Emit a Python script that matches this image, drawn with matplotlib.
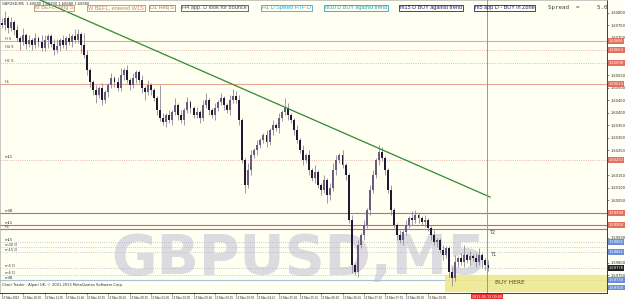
import numpy as np
import matplotlib
matplotlib.use("Agg")
import matplotlib.pyplot as plt
import matplotlib.transforms as mtransforms

# M5 closes
closes = [
    1.60750, 1.60778, 1.60738, 1.60762,
    1.60730, 1.60698, 1.60682, 1.60710, 1.60674, 1.60690, 1.60670,
    1.60698, 1.60682, 1.60658, 1.60690, 1.60706, 1.60674, 1.60650, 1.60666, 1.60690, 1.60670,
    1.60698, 1.60682, 1.60706, 1.60690, 1.60714,
    1.60670, 1.60630, 1.60570, 1.60522, 1.60490, 1.60470, 1.60498, 1.60450,
    1.60482, 1.60510, 1.60538, 1.60522, 1.60498, 1.60550, 1.60570, 1.60530, 1.60510, 1.60538,
    1.60562, 1.60530, 1.60498, 1.60482, 1.60510, 1.60490, 1.60458,
    1.60410, 1.60378, 1.60362, 1.60390, 1.60370,
    1.60402, 1.60430, 1.60390, 1.60370, 1.60410, 1.60442, 1.60418, 1.60390, 1.60402, 1.60378,
    1.60430, 1.60450, 1.60410, 1.60390, 1.60418, 1.60442, 1.60458, 1.60430, 1.60410, 1.60450,
    1.60466, 1.60450,
    1.60370, 1.60210, 1.60110, 1.60170,
    1.60230, 1.60250, 1.60270, 1.60290, 1.60310, 1.60282, 1.60330, 1.60350, 1.60338, 1.60378,
    1.60402, 1.60418, 1.60390, 1.60370,
    1.60330, 1.60290, 1.60250, 1.60210, 1.60230, 1.60170, 1.60138, 1.60162, 1.60110, 1.60090,
    1.60130, 1.60070, 1.60098,
    1.60170, 1.60210, 1.60230, 1.60190, 1.60150,
    1.59970, 1.59790, 1.59762,
    1.59870, 1.59910, 1.59950, 1.60010, 1.60090, 1.60150, 1.60210, 1.60242, 1.60218,
    1.60170, 1.60090, 1.60010, 1.59950, 1.59910, 1.59890, 1.59922,
    1.59950, 1.59978, 1.59970, 1.59990, 1.59978, 1.59962, 1.59970, 1.59938,
    1.59910, 1.59882, 1.59890, 1.59850, 1.59830, 1.59858,
    1.59762, 1.59738,
    1.59802, 1.59818, 1.59802, 1.59830, 1.59810, 1.59826, 1.59818, 1.59802, 1.59830, 1.59810,
    1.59790, 1.59778,
]
first_open = 1.60760

# wick lengths in pips
up_wick = [
    2, 3, 1, 2, 1, 2, 1, 3, 1, 2, 1, 2, 1, 3, 2, 1, 1, 2, 3, 1,
    2, 1, 2, 1, 3, 2, 1, 5, 2, 1, 1, 2, 1, 2, 1, 1, 2, 1, 2, 3,
    1, 2, 1, 2, 1, 1, 2, 1, 2, 1, 1, 1, 10, 2, 1, 2, 1, 3, 1, 2,
    1, 2, 1, 1, 2, 1, 2, 3, 1, 1, 2, 1, 2, 1, 1, 2, 3, 2, 2, 1,
    1, 3, 2, 1, 2, 1, 1, 2, 1, 2, 1, 2, 1, 4, 2, 1, 1, 2, 1, 2,
    1, 2, 1, 3, 1, 1, 2, 1, 2, 3, 2, 1, 2, 1, 1, 2, 1, 2, 1, 2,
    1, 2, 2, 1, 3, 2, 1, 1, 2, 1, 1, 2, 1, 2, 1, 3, 2, 1, 1, 2,
    1, 1, 2, 1, 1, 2, 1, 1, 2, 3, 1, 2, 4, 1, 2, 1, 2, 3, 1, 1,
    2,
]
down_wick = [
    1, 2, 2, 1, 2, 1, 3, 1, 2, 1, 2, 1, 2, 1, 1, 3, 1, 2, 1, 2,
    1, 2, 1, 2, 1, 1, 3, 1, 2, 2, 2, 3, 1, 2, 1, 2, 1, 2, 1, 1,
    2, 1, 2, 1, 2, 1, 2, 3, 1, 2, 1, 2, 1, 1, 2, 1, 2, 1, 2, 1,
    2, 1, 2, 1, 1, 2, 1, 1, 2, 1, 2, 1, 1, 2, 1, 2, 1, 1, 2, 1,
    3, 1, 2, 1, 2, 1, 1, 2, 1, 2, 1, 2, 1, 1, 2, 1, 2, 1, 1, 2,
    1, 2, 1, 2, 1, 2, 1, 3, 2, 1, 2, 1, 1, 2, 1, 3, 1, 2, 1, 2,
    1, 2, 1, 1, 2, 1, 2, 1, 2, 1, 2, 1, 2, 1, 1, 2, 1, 2, 1, 2,
    1, 2, 1, 2, 1, 2, 1, 2, 3, 1, 2, 1, 2, 1, 2, 1, 2, 1, 3, 2,
    1,
]

# horizontal levels: (price, colour, style, left label)
levels = [
    (1.60686, "#eaa493", "-", "H S"),
    (1.60650, "#e0a090", ":", "H4 S"),
    (1.60598, "#e0a090", ":", "H1 S"),
    (1.60514, "#eaa493", "-", "H1"),
    (1.60210, "#e0a090", ":", "m15"),
    (1.59998, "#c86a60", "-", "m4B"),
    (1.59950, "#c86a60", "-", "m15"),
    (1.59934, "#c86a60", "-", "H1"),
    (1.59882, "#b8b8c8", ":", "m15"),
    (1.59862, "#b8b8c8", ":", "m30 D"),
    (1.59842, "#b8b8c8", ":", "m15 D"),
    (1.59778, "#b8b8c8", ":", "m5 D"),
    (1.59750, "#b8b8c8", ":", "m5 D"),
    (1.59730, "#a8c0d8", "-", "m4B"),
]
axis_tags = [
    (1.60686, "#e07060"), (1.60650, "#e07060"), (1.60598, "#e07060"),
    (1.60514, "#e07060"), (1.60210, "#e07060"), (1.59998, "#e07060"),
    (1.59950, "#e07060"), (1.59882, "#6a8fd8"),
    (1.59842, "#6a8fd8"), (1.59778, "#202020"), (1.59730, "#6a8fd8"),
    (1.59700, "#6a8fd8"),
]

trend_x = [12.5, 160.5]
trend_y = [1.60850, 1.60062]
zone_x = [145.7, 199.0]
zone_y = [1.59682, 1.59750]
vline_x = 159.5

top_labels = [
    (35, "M BEFL, sing S", "#c8866a"),
    (88, "W BEFL, entered W1S", "#c8866a"),
    (150, "D1 Req S", "#b07a6a"),
    (182, "H4 app. D look for bounce", "#4a5068"),
    (262, "H1 D Spiked HTF D", "#3aa8d8"),
    (325, "m30 D BUY against trend", "#30a0b8"),
    (400, "m15 D BUY against trend", "#22227a"),
    (475, "m5 app D - BUY in Zone", "#22227a"),
]

time_labels = ["10 May 2013", "10 May 20:30", "10 May 21:05", "10 May 21:40",
               "10 May 22:15", "13 May 00:20", "13 May 00:55", "13 May 01:30",
               "13 May 02:05", "13 May 02:40", "13 May 03:15", "13 May 03:50",
               "13 May 04:25", "13 May 05:00", "13 May 05:35", "13 May 06:10",
               "13 May 06:45", "13 May 07:20", "13 May 07:55", "13 May 08:30",
               "13 May 09:05"]

W, H = 625, 299
fig = plt.figure(figsize=(W / 100, H / 100), dpi=100, facecolor="#fffff6")
ax = fig.add_axes([0, 6 / H, 607 / W, 293 / H], facecolor="#fffff2")

closes = np.array(closes)
opens = np.concatenate([[first_open], closes[:-1]])
highs = np.maximum(opens, closes) + np.array(up_wick) * 0.0001
lows = np.minimum(opens, closes) - np.array(down_wick) * 0.0001
idx = np.arange(len(closes))

# levels and zone
for price, col, ls, lab in levels:
    ax.axhline(price, color=col, ls=ls, lw=0.8 if ls == "-" else 0.6, zorder=1)
    ax.text(1.0, price + 0.00002, lab, fontsize=2.6, color="#404040", va="bottom", zorder=5)
ax.fill_between(zone_x, zone_y[0], zone_y[1], color="#eee890", alpha=0.9, lw=0, zorder=1)
ax.text(167, 1.59718, "BUY HERE", fontsize=4.2, color="#505020", ha="center", va="center", zorder=5)

# watermark
ax.text(0.492, 0.115, "GBPUSD,M5", transform=ax.transAxes, fontsize=40, fontweight="bold",
        color="#dcdce0", ha="center", va="center", zorder=0)

# candles
up = closes >= opens
ax.vlines(idx, lows, highs, color="#8c8c9c", lw=0.6, zorder=3)
body_h = np.maximum(np.abs(closes - opens), 0.00002)
ax.bar(idx[up], body_h[up], bottom=np.minimum(opens, closes)[up], width=0.65,
       color="#6a5c80", lw=0, zorder=4)
ax.bar(idx[~up], body_h[~up], bottom=np.minimum(opens, closes)[~up], width=0.65,
       color="#221832", lw=0, zorder=4)

ax.plot(trend_x, trend_y, color="#2f8a2f", lw=0.9, zorder=6)
ax.axvline(vline_x, color="#e07a70", lw=0.7, zorder=6)
ax.text(vline_x + 0.6, 1.59918, "T2", fontsize=3.6, color="#404040", va="center")
ax.text(vline_x + 0.9, 1.59830, "T1", fontsize=3.6, color="#404040", va="center")

ax.set_xlim(-0.66, 199.0)
ax.set_ylim(1.59678, 1.60850)

# price axis, plain ticks left where no level tag covers them
ticks = np.arange(1.5970, 1.6081, 0.0005)
tag_prices = np.array([p for p, _ in axis_tags])
ticks = [t for t in ticks if np.min(np.abs(tag_prices - t)) > 0.00012]
ax.yaxis.tick_right()
ax.set_yticks(ticks)
ax.yaxis.set_major_formatter(matplotlib.ticker.FormatStrFormatter("%.5f"))
ax.tick_params(axis="y", labelsize=2.6, length=1.5, width=0.4, pad=0.8, colors="#303030")
tr = mtransforms.blended_transform_factory(ax.transAxes, ax.transData)
for price, col in axis_tags:
    ax.text(1.003, price, f"{price:.5f}", transform=tr, fontsize=2.6, color="white",
            va="center", ha="left", clip_on=False,
            bbox=dict(boxstyle="square,pad=0.2", fc=col, ec="none"))

# time axis
ax.set_xticks(np.arange(len(time_labels)) * 7)
ax.set_xticklabels(time_labels, family="Liberation Sans")
ax.tick_params(axis="x", labelsize=2.2, length=1.5, width=0.4, pad=0.5, colors="#303030")
for lab in ax.get_xticklabels():
    lab.set_horizontalalignment("left")
ax.text(vline_x, 1.59672, "2013.05.13 00:00", fontsize=2.4, color="white", ha="center",
        va="top", clip_on=False, bbox=dict(boxstyle="square,pad=0.25", fc="#e03030", ec="none"))

for side in ["top", "left"]:
    ax.spines[side].set_color("#b0b0b0")
    ax.spines[side].set_linewidth(0.5)
ax.spines["right"].set_color("#202020")
ax.spines["bottom"].set_color("#202020")
ax.spines["right"].set_linewidth(0.6)
ax.spines["bottom"].set_linewidth(0.6)

# header and footer texts
ax.text(0.004, 0.994, "GBPUSD,M5  1.60680 1.60700 1.60680 1.60680", transform=ax.transAxes,
        fontsize=2.6, color="#303030", va="top")
ax.text(0.004, 0.022, "Chart Trader - Alpari UK, \u00a9 2001-2013 MetaQuotes Software Corp.",
        transform=ax.transAxes, fontsize=2.6, color="#303030", va="bottom")

for x0, s, c in top_labels:
    fig.text(x0 / W, 1 - 8 / H, s, fontsize=4.0, family="Liberation Sans", color=c,
             va="center", ha="left",
             bbox=dict(boxstyle="square,pad=0.15", fc="none", ec=c, lw=0.6))
fig.text(548 / W, 1 - 8 / H, "Spread  =     5.0", fontsize=4.2, family="DejaVu Sans Mono",
         color="#404040", va="center", ha="left")

fig.savefig("out.png", dpi=100, facecolor=fig.get_facecolor())
